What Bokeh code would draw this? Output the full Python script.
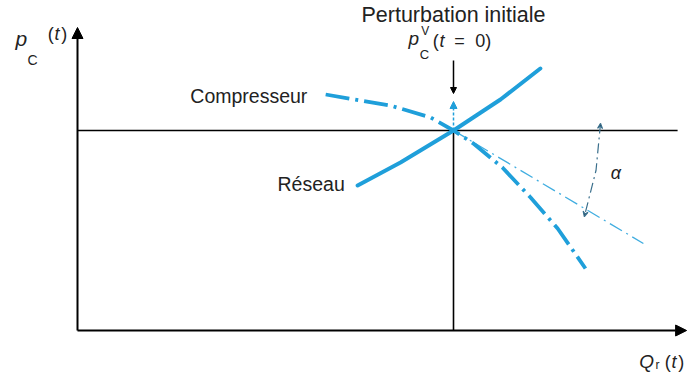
from bokeh.plotting import figure
from bokeh.models import Range1d, Arrow, NormalHead, VeeHead, Label
from bokeh.embed import file_html
from bokeh.resources import INLINE

# Flow Q_r and pressure p_C in arbitrary units; the operating point sits at (100, 100)
op_q = 100.0
op_p = 100.0

# Network characteristic (Réseau)
reseau_q = [74.5, 85.9, 100.0, 112.5, 123.1]
reseau_p = [72.5, 84.0, 100.0, 115.5, 131.0]

# Compressor characteristic (Compresseur)
compresseur_q = [66.0, 75.3, 83.2, 93.9, 100.0, 105.3, 113.0, 120.5, 127.7, 135.1]
compresseur_p = [118.0, 115.0, 112.5, 106.5, 100.0, 93.5, 81.5, 66.5, 51.0, 31.0]

# Tangent to the compressor curve at the operating point
tangente_q = [100.0, 150.5]
tangente_p = [100.0, 43.5]

# Angle marker alpha
angle_q = [139.1, 137.9, 134.8]
angle_p = [103.5, 80.0, 57.0]

# Axis extents
q_max = 162.0
p_max = 151.5
ref_q_end = 159.6

# Initial perturbation arrows
perturb_black = (135.0, 118.5)
perturb_blue = (100.0, 114.5)

BLUE = "#1f9fda"
INK = "#222222"
FONT = "Liberation Sans"

p = figure(width=688, height=373, output_backend="svg", toolbar_location=None,
           x_range=Range1d(-20.48, 162.5), y_range=Range1d(-21.5, 165.0),
           min_border=0, min_border_left=0, min_border_right=0,
           min_border_top=0, min_border_bottom=0)
p.axis.visible = False
p.grid.visible = False
p.outline_line_color = None
p.background_fill_color = "white"
p.border_fill_color = "white"

# Reference lines through the operating point
p.line([0, ref_q_end], [op_p, op_p], line_color="black", line_width=1.6)
p.line([op_q, op_q], [0, op_p], line_color="black", line_width=1.6)

# Axes with arrowheads
p.add_layout(Arrow(end=NormalHead(size=11, fill_color="black", line_color="black"),
                   x_start=0, y_start=0, x_end=0, y_end=p_max,
                   line_color="black", line_width=2))
p.add_layout(Arrow(end=NormalHead(size=11, fill_color="black", line_color="black"),
                   x_start=0, y_start=0, x_end=q_max, y_end=0,
                   line_color="black", line_width=2.2))

# Tangent and angle marker
p.line(tangente_q, tangente_p, line_color=BLUE, line_width=1.3,
       line_dash="14 5 2 5", line_alpha=0.85)
p.line(angle_q, angle_p, line_color="#3a6f8c", line_width=1.2,
       line_dash="10 4 2 4")
for i_from, i_to in ((1, 0), (1, 2)):
    p.add_layout(Arrow(end=VeeHead(size=5, line_color="#3a6f8c", line_width=1.2),
                       x_start=angle_q[i_from], y_start=angle_p[i_from],
                       x_end=angle_q[i_to], y_end=angle_p[i_to], line_alpha=0))

# Characteristic curves
p.line(reseau_q, reseau_p, line_color=BLUE, line_width=4, line_cap="round")
p.line(compresseur_q, compresseur_p, line_color=BLUE, line_width=3.8,
       line_dash="24 6 3 6")

# Perturbation arrows
p.add_layout(Arrow(end=NormalHead(size=6, fill_color="black", line_color="black"),
                   x_start=op_q, y_start=perturb_black[0], x_end=op_q, y_end=perturb_black[1],
                   line_color="black", line_width=1.5))
p.add_layout(Arrow(end=NormalHead(size=7, fill_color=BLUE, line_color=BLUE),
                   x_start=op_q, y_start=perturb_blue[0], x_end=op_q, y_end=perturb_blue[1],
                   line_color=BLUE, line_width=1.5, line_dash="3 2"))


def label(x, y, text, size, style="normal", align="left", baseline="alphabetic", color=INK):
    p.add_layout(Label(x=x, y=y, text=text, text_font=FONT, text_font_size=f"{size}px",
                       text_font_style=style, text_align=align, text_baseline=baseline,
                       text_color=color))


# Curve names
label(30.0, 117.5, "Compresseur", 19.5, align="left", baseline="middle")
label(53.2, 73.5, "Réseau", 19.5, align="left", baseline="middle")

# Perturbation caption
label(op_q, 158.0, "Perturbation initiale", 21.5, align="center", baseline="middle")
label(88.0, 146.0, "p", 19, style="italic")
label(91.0, 138.0, "C", 13)
label(91.4, 149.8, "V", 12)
label(94.5, 145.0, "(", 18)
label(96.3, 145.0, "t", 18, style="italic")
label(100.2, 145.0, "=", 18)
label(105.8, 145.0, "0)", 18)

# Axis titles
label(-16.5, 146.0, "p", 21, style="italic")
label(-13.3, 135.5, "C", 14)
label(-7.9, 148.5, "(", 18)
label(-6.1, 148.5, "t", 18, style="italic")
label(-4.3, 148.5, ")", 18)
label(149.4, -15.5, "Q", 19, style="italic")
label(153.7, -17.3, "r", 12)
label(156.2, -15.5, "(", 18)
label(158.0, -15.5, "t", 18, style="italic")
label(159.8, -15.5, ")", 18)

# Angle symbol
label(141.8, 79.0, "α", 18, style="italic", baseline="middle")

open("out.html", "w").write(file_html(p, INLINE))
